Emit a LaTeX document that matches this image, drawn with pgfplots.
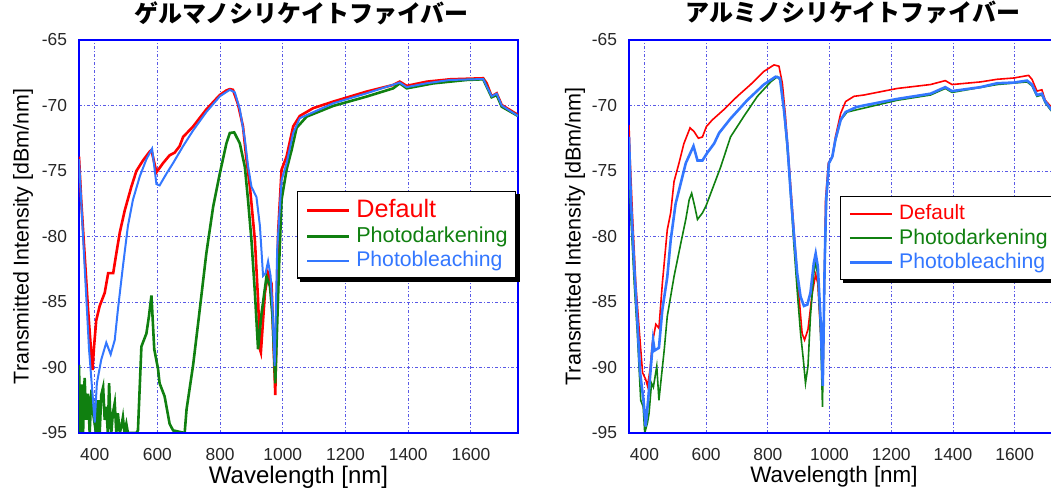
\documentclass[border=0pt]{standalone}
\usepackage{fontspec}
\setmainfont{Liberation Sans}
\newfontfamily\jp{Noto Sans CJK JP}
\usepackage{pgfplots}
\pgfplotsset{compat=1.18}
\definecolor{cred}{RGB}{255,0,0}
\definecolor{cgreen}{RGB}{16,128,16}
\definecolor{cblue}{RGB}{51,119,255}
\definecolor{cgrid}{RGB}{90,90,230}
\definecolor{cframe}{RGB}{0,0,255}

\pgfplotsset{
  panel/.style={
    scale only axis, height=196.5pt,
    xmin=350, xmax=1750, ymin=-95, ymax=-65,
    xtick={400,600,800,1000,1200,1400,1600},
    ytick={-95,-90,-85,-80,-75,-70,-65},
    grid=major,
    major grid style={cgrid, line width=0.5pt, dash pattern=on 1.5pt off 1pt on 0.5pt off 1pt},
    axis line style={cframe, line width=0.7pt},
    tick style={draw=none},
    /pgf/number format/assume math mode=true,
    /pgf/number format/1000 sep={},
    tick label style={font=\fontsize{8.7}{10}\selectfont, text=black!85},
    xticklabel shift=4pt,
    yticklabel shift=2.5pt,
    legend cell align=left,
    legend image code/.code={\draw[##1] (0pt,0pt) -- (21pt,0pt);},
    legend style={anchor=north west, draw=black, line width=0.7pt, fill=white,
      inner xsep=4pt, inner ysep=4pt, row sep=3pt, column sep=3pt,
      nodes={inner sep=0pt}},
    title style={anchor=center, fill=white, inner ysep=0pt, minimum height=17pt,
      font=\jp\bfseries\fontsize{12}{12}\selectfont},
    after end axis/.code={\draw[cframe, line width=1.1pt] (rel axis cs:0,0) -- (rel axis cs:1,0);},
  }
}

\begin{document}
\begin{tikzpicture}
% ---------------- Left panel ----------------
\begin{axis}[panel, at={(39.5pt,28pt)}, anchor=south west, width=219.5pt,
  title={ゲルマノシリケイトファイバー},
  title style={at={(0.5068,1.0382)}, inner xsep=9pt},
  xlabel={Wavelength [nm]},
  xlabel style={at={(axis description cs:0.5,-0.112)}, anchor=center, font=\fontsize{12}{14}\selectfont},
  ylabel={Transmitted Intensity [dBm/nm]},
  ylabel style={at={(axis description cs:-0.1276,0.5)}, anchor=center, font=\fontsize{10.7}{12}\selectfont},
  legend style={at={(0.4966,0.6158)}, name=legA},
]
\addplot[cred, line width=1.3pt] coordinates {
(350,-73.9) (357,-77.2) (379,-85.6) (393,-90.2) (398,-88.4) (405,-86.4) (416,-85.3) (432,-84.3) (443,-82.8) (459,-82.8) (469,-81.3) (480,-79.7) (496,-78.0) (517,-76.2) (533,-75.0) (554,-74.2) (576,-73.5) (581,-73.4) (597,-75.1) (618,-74.4) (639,-73.8) (655,-73.6) (671,-73.1) (682,-72.4) (714,-71.6) (756,-70.3) (799,-69.2) (820,-68.85) (831,-68.75) (841,-68.8) (857,-69.9) (873,-71.6) (884,-74.1) (895,-76.2) (911,-80.3) (921,-84.8) (927,-88.6) (930,-88.85) (943,-84.3) (953,-82.8) (964,-83.6) (976,-92.1) (985,-79.7) (996,-74.9) (1012,-73.9) (1033,-71.6) (1054,-70.8) (1097,-70.2) (1161,-69.7) (1267,-68.94) (1352,-68.43) (1373,-68.18) (1395,-68.5) (1459,-68.18) (1533,-68.0) (1639,-67.92) (1650,-68.3) (1666,-69.3) (1682,-69.07) (1698,-69.96) (1750,-70.72)
};
\addlegendentry{\textcolor{cred}{\fontsize{12.6}{14}\selectfont Default}}
\addplot[cgreen, line width=1.3pt] coordinates {
(350,-89.8) (354,-95) (359,-91.3) (363,-95) (368,-90.8) (373,-94) (379,-92.0) (384,-95) (390,-91.7) (395,-93.5) (400,-94.3) (404,-92.5) (408,-95) (412,-92.5) (416,-95) (421,-92.1) (427,-91.5) (432,-94) (437,-93.0) (442,-95) (446,-91.2) (450,-94) (453,-95) (458,-93.5) (464,-92.7) (469,-95) (474,-93.5) (480,-95) (485,-94.5) (490,-93.8) (495,-95) (501,-94.3) (506,-95) (533,-95) (538,-94.8) (549,-88.4) (565,-87.4) (573,-86.1) (581,-84.5) (590,-88.6) (602,-90.1) (607,-91.2) (623,-92.2) (639,-94.3) (650,-94.8) (687,-95) (693,-93.2) (714,-89.8) (735,-85.6) (756,-81.3) (778,-77.7) (799,-75.2) (820,-72.9) (831,-72.1) (845,-72.05) (863,-72.9) (879,-74.7) (889,-77.2) (900,-80.3) (911,-84.3) (921,-88.6) (932,-85.9) (948,-83.05) (959,-83.8) (967,-86.1) (976,-91.2) (988,-82.3) (996,-77.2) (1012,-74.9) (1028,-73.4) (1044,-71.7) (1076,-70.85) (1161,-70.03) (1267,-69.32) (1352,-68.69) (1373,-68.31) (1395,-68.69) (1480,-68.31) (1586,-68.05) (1639,-68.0) (1666,-69.37) (1682,-69.2) (1698,-70.09) (1750,-70.8)
};
\addlegendentry{\textcolor{cgreen}{\fontsize{10.8}{12}\selectfont Photodarkening}}
\addplot[cblue, line width=1.0pt] coordinates {
(350,-74.1) (368,-82.3) (382,-88.6) (393,-92.0) (400,-94.2) (407,-91.2) (421,-89.4) (437,-88.1) (451,-89.0) (464,-87.9) (474,-85.6) (490,-82.3) (506,-79.2) (522,-77.2) (544,-75.4) (565,-74.1) (583,-73.3) (597,-76.0) (607,-76.1) (629,-75.2) (650,-74.4) (682,-73.1) (714,-71.9) (756,-70.5) (799,-69.3) (831,-68.8) (847,-69.0) (863,-70.3) (879,-72.6) (889,-74.6) (900,-76.2) (916,-77.0) (927,-79.2) (937,-83.0) (945,-82.8) (953,-81.9) (961,-83.0) (967,-85.6) (974,-89.9) (982,-81.0) (996,-75.7) (1012,-74.4) (1033,-72.1) (1054,-70.97) (1161,-69.83) (1267,-69.07) (1373,-68.25) (1395,-68.6) (1459,-68.3) (1533,-68.05) (1639,-67.98) (1666,-69.3) (1682,-69.1) (1698,-70.0) (1750,-70.8)
};
\addlegendentry{\textcolor{cblue}{\fontsize{10.6}{12}\selectfont Photobleaching}}
\end{axis}
\fill[black] ([xshift=1.6pt]legA.south west) rectangle ([xshift=1.6pt,yshift=-1.6pt]legA.south east);
\fill[black] ([yshift=-1.6pt]legA.north east) rectangle ([xshift=1.6pt,yshift=-1.6pt]legA.south east);

% ---------------- Right panel ----------------
\begin{axis}[panel, at={(314.5pt,28pt)}, anchor=south west, width=216pt,
  title={アルミノシリケイトファイバー},
  title style={at={(0.5185,1.0382)}, inner xsep=8.5pt},
  xlabel={Wavelength [nm]},
  xlabel style={at={(axis description cs:0.4745,-0.112)}, anchor=center, font=\fontsize{11.2}{13}\selectfont},
  ylabel={Transmitted Intensity [dBm/nm]},
  ylabel style={at={(axis description cs:-0.125,0.5)}, anchor=center, font=\fontsize{10.8}{12}\selectfont},
  legend style={at={(0.488,0.603)}, name=legB},
]
\addplot[cred, line width=0.8pt] coordinates {
(350,-71.5) (354,-74.2) (361,-78.2) (372,-83.6) (383,-87.1) (394,-90.4) (404,-90.9) (410,-91.4) (418,-90.2) (426,-88.1) (437,-86.7) (447,-87.0) (458,-83.6) (474,-79.5) (485,-78.2) (496,-75.8) (512,-74.4) (528,-72.9) (548,-71.7) (561,-72.0) (575,-72.5) (588,-72.4) (601,-71.6) (620,-71.1) (658,-70.3) (701,-69.3) (744,-68.4) (787,-67.4) (820,-66.9) (836,-67.0) (847,-68.3) (857,-70.8) (868,-74.2) (879,-77.7) (890,-81.3) (900,-84.3) (911,-87.4) (919,-87.9) (930,-87.1) (944,-84.3) (955,-82.9) (962,-83.6) (971,-87.4) (979,-90.2) (987,-77.2) (996,-74.4) (1009,-73.9) (1019,-72.4) (1036,-70.6) (1052,-69.7) (1079,-69.3) (1111,-69.2) (1219,-68.7) (1327,-68.4) (1375,-68.1) (1397,-68.4) (1489,-68.2) (1543,-68.0) (1597,-67.9) (1645,-67.7) (1656,-68.0) (1672,-68.9) (1688,-68.8) (1699,-69.6) (1718,-70.1) (1750,-70.6)
};
\addlegendentry{\textcolor{cred}{\fontsize{10.4}{12}\selectfont Default}}
\addplot[cgreen, line width=0.8pt] coordinates {
(350,-75.2) (356,-78.5) (367,-83.6) (377,-87.4) (388,-92.5) (396,-93.0) (401,-95) (410,-94.2) (415,-93.5) (423,-91.2) (429,-91.5) (440,-89.9) (447,-92.5) (455,-90.7) (464,-88.7) (474,-86.1) (496,-83.05) (518,-80.5) (534,-78.7) (545,-77.2) (553,-76.7) (563,-77.7) (572,-78.7) (588,-78.2) (599,-77.7) (615,-76.7) (647,-74.7) (679,-72.4) (723,-70.8) (766,-69.3) (809,-68.2) (831,-67.8) (841,-68.1) (852,-70.3) (868,-74.7) (884,-80.5) (895,-84.1) (906,-87.4) (915,-89.4) (922,-91.2) (930,-89.9) (938,-86.1) (949,-82.8) (955,-81.9) (962,-83.05) (971,-87.4) (977,-93.0) (984,-82.3) (990,-77.2) (998,-74.4) (1009,-73.9) (1019,-72.7) (1036,-71.1) (1057,-70.5) (1219,-69.6) (1327,-69.2) (1375,-68.7) (1397,-69.0) (1543,-68.4) (1640,-68.2) (1656,-68.5) (1672,-69.3) (1688,-69.2) (1699,-69.8) (1718,-70.4) (1750,-71.0)
};
\addlegendentry{\textcolor{cgreen}{\fontsize{10.6}{12}\selectfont Photodarkening}}
\addplot[cblue, line width=1.3pt] coordinates {
(350,-72.4) (356,-77.2) (367,-82.3) (377,-86.4) (386,-90.4) (397,-92.5) (404,-94.5) (412,-92.5) (420,-90.2) (428,-87.9) (433,-88.7) (447,-88.5) (458,-85.6) (474,-83.1) (485,-80.3) (501,-77.5) (518,-75.9) (534,-74.4) (559,-73.1) (572,-74.2) (588,-74.2) (604,-73.6) (626,-72.9) (642,-72.1) (679,-71.0) (733,-69.6) (787,-68.4) (825,-67.8) (839,-67.9) (852,-70.3) (863,-72.9) (874,-76.7) (884,-79.7) (895,-82.8) (906,-84.6) (917,-85.3) (928,-85.2) (938,-84.3) (949,-82.0) (955,-81.3) (962,-82.3) (971,-86.4) (978,-91.4) (984,-82.3) (989,-77.2) (998,-74.4) (1009,-73.9) (1019,-72.6) (1036,-71.1) (1052,-70.5) (1089,-70.1) (1219,-69.5) (1327,-69.1) (1375,-68.6) (1397,-68.9) (1489,-68.6) (1543,-68.3) (1597,-68.25) (1640,-68.1) (1656,-68.4) (1672,-69.2) (1688,-69.1) (1699,-69.7) (1718,-70.3) (1750,-70.9)
};
\addlegendentry{\textcolor{cblue}{\fontsize{10.6}{12}\selectfont Photobleaching}}
\end{axis}
\fill[black] ([xshift=1.6pt]legB.south west) rectangle ([xshift=1.6pt,yshift=-1.6pt]legB.south east);
\fill[black] ([yshift=-1.6pt]legB.north east) rectangle ([xshift=1.6pt,yshift=-1.6pt]legB.south east);
\pgfresetboundingbox
\path[use as bounding box] (0pt,0pt) rectangle (525.5pt,244.5pt);
\end{tikzpicture}
\end{document}
